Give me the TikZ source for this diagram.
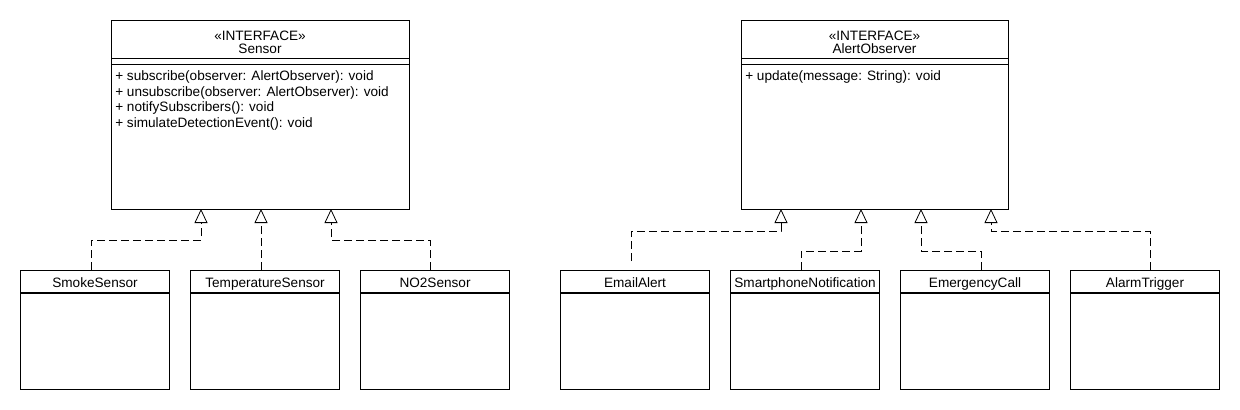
\documentclass[tikz,border=0pt]{standalone}
\usepackage{fontspec}
\setmainfont{Liberation Sans}
\usetikzlibrary{arrows.meta,calc}
\begin{document}
\begin{tikzpicture}[x=0.75pt,y=-0.75pt,
  box/.style={draw, line width=0.8pt, rectangle, anchor=north west, inner sep=0pt},
  ibox/.style={box, minimum height=141.75pt},
  cbox/.style={box, minimum width=111.75pt, minimum height=89.25pt},
  txt/.style={font=\fontsize{10.2}{12}\selectfont, inner sep=0pt},
  sep/.style={line width=0.8pt},
  real/.style={line width=0.6pt, dash pattern=on 6pt off 3pt,
    -{Triangle[open,width=9.75pt,length=10.5pt,line width=0.6pt]}}]
\useasboundingbox (0,0) rectangle (1240,410);

% interfaces
\node[ibox, minimum width=223.5pt] (sensor) at (111,20) {};
\draw[sep] ($(sensor.north west)+(0,38.5)$) -- ($(sensor.north east)+(0,38.5)$);
\draw[sep] ($(sensor.north west)+(0,44.3)$) -- ($(sensor.north east)+(0,44.3)$);
\node[txt, anchor=base] (sst) at (260,40.5) {«INTERFACE»};
\node[txt, anchor=base] (ssn) at (260,54) {Sensor};
\node[txt, anchor=base west] (sm1) at (115,81) {+ subscribe(observer: AlertObserver): void};
\node[txt, anchor=base west] (sm2) at (115,96.6) {+ unsubscribe(observer: AlertObserver): void};
\node[txt, anchor=base west] (sm3) at (115,112) {+ notifySubscribers(): void};
\node[txt, anchor=base west] (sm4) at (115,127.6) {+ simulateDetectionEvent(): void};

\node[ibox, minimum width=200.25pt] (obs) at (741,20) {};
\draw[sep] ($(obs.north west)+(0,38.5)$) -- ($(obs.north east)+(0,38.5)$);
\draw[sep] ($(obs.north west)+(0,44.3)$) -- ($(obs.north east)+(0,44.3)$);
\node[txt, anchor=base] (ost) at (874.5,40.5) {«INTERFACE»};
\node[txt, anchor=base] (osn) at (874.5,54) {AlertObserver};
\node[txt, anchor=base west] (om1) at (745,81) {+ update(message: String): void};

% concrete classes
\foreach \n/\x/\t in {smoke/20/SmokeSensor, temp/190/TemperatureSensor, no2/360/NO2Sensor,
  email/560/EmailAlert, phone/730/SmartphoneNotification, call/900/EmergencyCall, alarm/1070/AlarmTrigger}{
  \node[cbox] (\n) at (\x,270) {};
  \draw[sep] ($(\n.north west)+(0,23)$) -- ($(\n.north east)+(0,23)$);
  \node[txt, anchor=base] (\n-name) at ($(\n.north)+(0,17.5)$) {\t};
}

% connector anchors on parents
\coordinate (t1) at (201,209);
\coordinate (t2) at (261,209);
\coordinate (t3) at (331,209);
\coordinate (u1) at (781,209);
\coordinate (u2) at (861,209);
\coordinate (u3) at (921,209);
\coordinate (u4) at (991,209);
% connector anchors on children
\coordinate (c1) at (91,270);
\coordinate (c2) at (261,270);
\coordinate (c3) at (430,270);
\coordinate (d1) at (631,261);
\coordinate (d2) at (801,270);
\coordinate (d3) at (981,270);
\coordinate (d4) at (1150,270);

\draw[real] (c1) -- ++(0,-30) -| (t1);
\draw[real] (c2) -- (t2);
\draw[real] (c3) -- ++(0,-30) -| (t3);
\draw[real] (d1) -- ++(0,-30) -| (u1);
\draw[real] (d2) -- ++(0,-19) -| (u2);
\draw[real] (d3) -- ++(0,-19) -| (u3);
\draw[real] (d4) -- ++(0,-39) -| (u4);
\end{tikzpicture}
\end{document}
